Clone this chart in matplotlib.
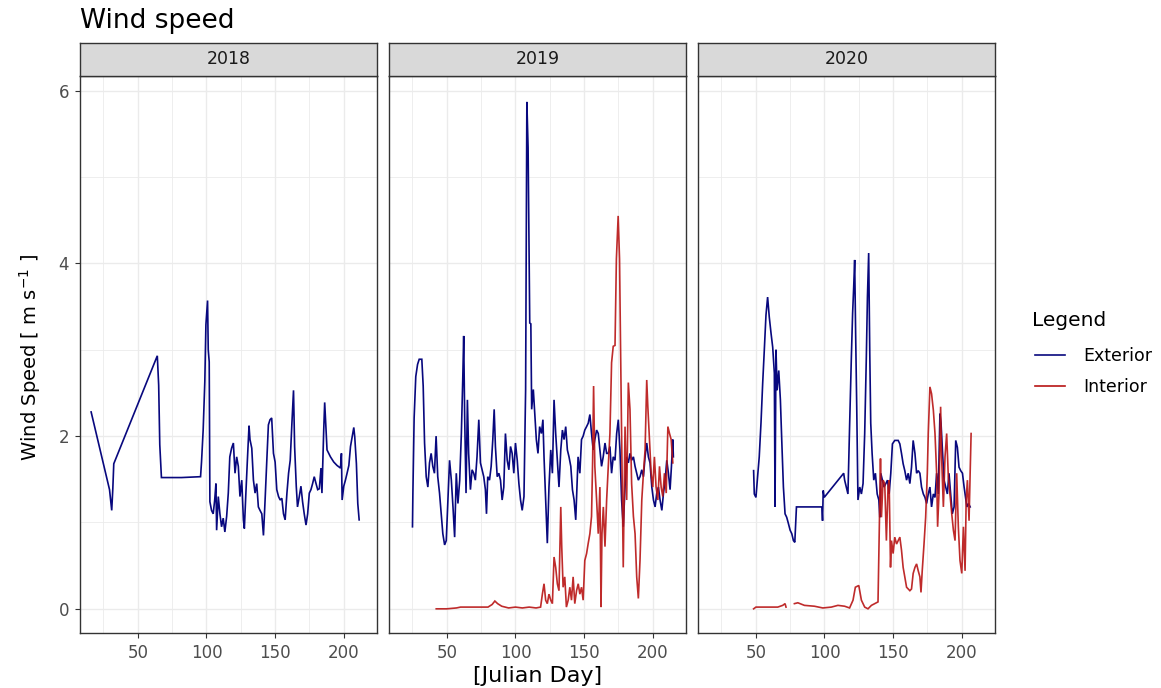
import numpy as np
import matplotlib
matplotlib.use("Agg")
import matplotlib.pyplot as plt
from matplotlib.lines import Line2D

plt.rcParams['font.family'] = ['DejaVu Sans']

# ---------------- data ----------------
years = ["2018", "2019", "2020"]

ext18_x = [16, 29.4, 31, 31.8, 32.5, 64.2, 65.2, 66, 67.2, 81.8, 95.7, 96.4, 97.6, 98.8, 99.6, 100.8, 101.3, 102,
           102.5, 103.7, 104.9, 106, 106.9, 107.4, 108.6, 109.8, 111, 112.2, 113.4, 114.7, 115.9, 117, 118.3, 119.6,
           120.8, 122, 123.2, 124.4, 125.7, 126.9, 127.6, 128.6, 129.8, 131, 131.7, 133, 134.2, 135.4, 136.6, 137.8,
           139, 140.3, 141.5, 142.7, 143.9, 145.1, 146.3, 147.5, 148.8, 150, 151.2, 152.5, 153.7, 154.9, 156.1,
           157.3, 158.6, 159.8, 161, 162.2, 163.4, 164.2, 165.4, 166.3, 167.6, 168.8, 170, 171.2, 172.5, 173.7,
           174.9, 176.1, 177.3, 178.5, 179.8, 181, 182.2, 183.4, 184.1, 185.4, 186.1, 187.1, 187.8, 190.3, 192.7,
           195.1, 197.6, 198.3, 198.8, 200, 201.2, 202.4, 203.7, 204.9, 206.1, 207.3, 208, 209.2, 210.2, 211.2]
ext18_y = [2.28, 1.38, 1.14, 1.39, 1.68, 2.93, 2.59, 1.90, 1.52, 1.52, 1.53, 1.70, 2.07, 2.63, 3.29, 3.57, 3.0, 2.86,
           1.24, 1.14, 1.1, 1.26, 1.45, 0.91, 1.3, 1.1, 0.95, 1.05, 0.89, 1.07, 1.34, 1.76, 1.86, 1.92,
           1.57, 1.76, 1.65, 1.3, 1.49, 1.03, 0.93, 1.30, 1.72, 2.12, 1.96, 1.86, 1.49, 1.34, 1.45, 1.18,
           1.14, 1.1, 0.85, 1.26, 1.70, 2.13, 2.19, 2.21, 1.8, 1.70, 1.38, 1.3, 1.26, 1.28, 1.1,
           1.03, 1.34, 1.57, 1.72, 2.14, 2.53, 1.88, 1.42, 1.18, 1.3, 1.42, 1.24, 1.1, 0.97, 1.1,
           1.34, 1.38, 1.45, 1.53, 1.45, 1.38, 1.39, 1.63, 1.34, 2.07, 2.39, 2.07, 1.84, 1.76, 1.70,
           1.66, 1.63, 1.80, 1.26, 1.42, 1.49, 1.57, 1.66, 1.88, 1.99, 2.10, 1.99, 1.68, 1.22, 1.03]

ext19_x = [25, 25.3, 26.2, 27.4, 28.7, 29.9, 31.8, 32.8, 33.8, 35, 36.2, 37.4, 38.6, 39.8, 41, 42.2, 43.4, 44.7,
           45.9, 47.1, 48.4, 49.6, 50.8, 52, 53.3, 54.5, 55.7, 56.9, 58.1, 59.4, 60.6, 61.6, 62.3, 63, 64, 65,
           65.9, 67.2, 68.4, 69.6, 70.8, 72, 73.3, 74.5, 75.7, 76.9, 78.1, 78.9, 79.8, 81.1, 82.3, 83.5, 84.5,
           85.4, 86.7, 87.9, 89.1, 90.3, 91.5, 92.7, 94, 95.2, 96.4, 97.6, 98.8, 100, 101.3, 102.5, 103.7, 104.9,
           106.2, 107.4, 108.3, 109.2, 109.8, 110.4, 111.2, 111.8, 113, 114, 115.2, 116.4, 117.6, 118.9, 120,
           120.8, 122, 123.2, 124.4, 125.7, 126.9, 128.1, 129.3, 130.5, 131.7, 133, 134.2, 135.4, 136.6, 137.8,
           139, 140.3, 141.5, 142.7, 143.9, 144.7, 145.6, 146.9, 148.1, 149.3, 150.5, 151.8, 153, 154.2, 155.4,
           156.6, 157.8, 159.1, 160.3, 161.5, 162.7, 163.9, 165.2, 166.4, 167.6, 168.8, 170, 171.2, 172.5, 173.7,
           174.9, 176.1, 177.3, 178.5, 179.8, 181, 182.2, 183.4, 184.6, 185.9, 187.1, 188.3, 189.5, 190.7, 192,
           193.2, 194.4, 195.6, 196.8, 198, 199.3, 200.5, 201.7, 202.9, 204.1, 205.3, 206.6, 207.8, 209, 210.2,
           211.4, 212.6, 213.6, 214.6, 215]
ext19_y = [0.95, 1.34, 2.21, 2.69, 2.83, 2.89, 2.89, 2.58, 1.92, 1.53, 1.41, 1.69, 1.80, 1.65, 1.57, 2.0, 1.53, 1.34,
           1.10, 0.87, 0.74, 0.79, 1.26, 1.72, 1.49, 1.18, 0.83, 1.57, 1.22, 1.49, 2.03, 2.65, 3.16, 2.23, 1.34, 2.42,
           1.80, 1.38, 1.61, 1.57, 1.49, 1.76, 2.19, 1.69, 1.61, 1.53, 1.38, 1.10, 1.53, 1.49, 1.65, 1.96, 2.31,
           1.88, 1.53, 1.57, 1.49, 1.26, 1.41, 2.03, 1.72, 1.61, 1.88, 1.80, 1.57, 1.92, 1.72, 1.45, 1.26, 1.14,
           1.30, 2.54, 5.87, 5.34, 4.35, 3.31, 3.3, 2.31, 2.54, 2.27, 1.96, 1.80, 2.11, 2.03, 2.19,
           1.76, 1.26, 0.76, 1.41, 1.84, 1.57, 2.42, 2.03, 1.72, 1.41, 1.84, 2.07, 1.96, 2.11, 1.84,
           1.76, 1.65, 1.38, 1.26, 1.03, 1.38, 1.76, 1.57, 1.96, 2.0, 2.07, 2.11, 2.15, 2.25, 2.03,
           1.84, 1.96, 2.07, 2.03, 1.84, 1.65, 1.76, 1.92, 1.80, 1.80, 1.88, 1.57, 1.76, 1.72, 2.03,
           2.19, 1.84, 1.26, 0.95, 1.41, 1.76, 1.69, 1.80, 1.72, 1.76, 1.65, 1.57, 1.49, 1.53, 1.61,
           1.53, 1.76, 1.92, 1.76, 1.69, 1.41, 1.26, 1.18, 1.34, 1.41, 1.26, 1.14, 1.34, 1.49, 1.72,
           1.57, 1.38, 1.65, 1.96, 1.76]

int19_x = [42.3, 50, 57, 60, 65, 70, 75, 80, 83, 85, 87, 90, 95, 100, 105, 110, 115, 118.3, 119.6, 120.8, 122,
           123.2, 124.4, 125.7, 126.9, 128.1, 129.3, 130.5, 131.7, 133, 133.7, 134.7, 135.9, 137.1, 138.4, 139.6,
           140.8, 142, 143.2, 144.5, 145.7, 146.9, 148.1, 149.3, 150.5, 151.8, 153, 154.2, 155.4, 156.2, 156.9,
           157.8, 159.1, 160.3, 161.5, 162.3, 163, 164, 165.2, 166.4, 167.6, 168.8, 170, 171.2, 172.5, 173.5,
           174.8, 175.8, 176.5, 177.3, 178.5, 179.8, 181, 182.2, 183.4, 184.6, 185.9, 187.1, 188.3, 189.5, 190.7,
           192, 193.2, 194.4, 195.6, 196.4, 197.6, 198.8, 200, 201.2, 202.4, 203.7, 204.9, 206.1, 207.3, 208.5,
           209.8, 211, 212.2, 213.4, 214.6]
int19_y = [0.0, 0.0, 0.01, 0.02, 0.02, 0.02, 0.02, 0.02, 0.05, 0.09, 0.06, 0.03, 0.01, 0.02, 0.01, 0.02, 0.01, 0.02,
           0.17, 0.29, 0.1, 0.06, 0.17, 0.1, 0.06, 0.6, 0.48, 0.29, 0.21, 1.18, 0.72, 0.25, 0.37, 0.02, 0.1, 0.25,
           0.1, 0.37, 0.06, 0.21, 0.29, 0.17, 0.25, 0.1, 0.56, 0.64, 0.76, 0.87, 1.07, 1.72, 2.58,
           1.65, 1.26, 0.87, 1.41, 0.02, 0.87, 1.18, 0.72, 1.26, 1.65, 2.03, 2.85, 3.04, 3.05, 4.05,
           4.55, 4.05, 3.08, 2.03, 0.48, 2.11, 1.26, 2.62, 2.31, 1.45, 1.07, 0.87, 0.37, 0.12, 0.56,
           1.26, 1.57, 1.84, 2.65, 2.34, 1.96, 1.57, 1.41, 1.76, 1.41, 1.26, 1.65, 1.41, 1.30, 1.57,
           1.34, 2.11, 2.03, 1.96, 1.69]

ext20_x = [48.4, 48.9, 50.1, 51.3, 52.5, 53.8, 55, 56.2, 57.4, 58.6, 59.8, 61.1, 62.3, 63.5, 64, 64.7, 65.5, 66.7,
           67.9, 68.9, 70.1, 71.3, 72.5, 73.7, 75, 76.2, 77.4, 78.4, 79.6, 81, 87.9, 95.2, 98.1, 98.6, 99.1, 99.8,
           114, 114.7, 115.9, 117.1, 118.3, 119.6, 120.5, 121.3, 122, 122.7, 123.5, 124.4, 125.7, 126.9, 128.1,
           129.3, 130.5, 131.3, 132.2, 133, 133.7, 134.7, 135.9, 137.1, 138.4, 139.6, 140.3, 141, 142.2, 143.4,
           144.7, 145.9, 147.1, 148.3, 149.5, 151.2, 153.7, 154.9, 156.1, 157.3, 158.5, 159.8, 161, 162.2, 163.4,
           164.6, 165.9, 167.1, 168.3, 169.5, 170.7, 172, 173.2, 174.4, 175.6, 176.8, 178, 179.3, 180.5, 181.7,
           182.9, 184.1, 184.9, 185.8, 187.1, 188.3, 189.5, 190.7, 191.9, 193.1, 194.4, 195.6, 196.8, 198, 199.2,
           200.5, 201.7, 202.4, 203.7, 204.9, 206.1]
ext20_y = [1.60, 1.33, 1.29, 1.53, 1.76, 2.16, 2.61, 3.0, 3.40, 3.61, 3.38, 3.19, 3.03, 2.73, 1.18, 3.0, 2.53, 2.76,
           2.42, 1.95, 1.41, 1.10, 1.06, 0.99, 0.91, 0.87, 0.79, 0.77, 1.18, 1.18, 1.18, 1.18, 1.18, 1.02, 1.37, 1.29,
           1.57, 1.49, 1.41, 1.33, 2.11, 2.92, 3.42, 3.73, 4.04, 3.19, 2.34, 1.26, 1.41, 1.33, 1.45,
           2.03, 2.92, 3.61, 4.12, 2.96, 2.15, 1.80, 1.49, 1.57, 1.33, 1.26, 1.06, 1.57, 1.49, 1.41,
           1.45, 1.49, 1.33, 1.57, 1.91, 1.95, 1.95, 1.91, 1.80, 1.68, 1.60, 1.49, 1.57, 1.45, 1.64,
           1.95, 1.80, 1.57, 1.60, 1.57, 1.41, 1.33, 1.29, 1.22, 1.33, 1.41, 1.18, 1.33, 1.29, 1.57,
           1.33, 2.26, 2.15, 1.87, 1.49, 1.41, 1.33, 1.57, 1.33, 1.10, 1.18, 1.95, 1.87, 1.64, 1.60,
           1.57, 1.41, 1.33, 1.18, 1.22, 1.18]

int20_x = [48.4, 50.1, 53.8, 58.6, 66, 69.6, 71.3, 72, 75, 78.1, 80.6, 85.4, 92.7, 98.8, 105, 109.8, 114.7, 118.3,
           120.8, 122.5, 125, 126.9, 129.3, 131.7, 134.2, 136.6, 139, 140.3, 140.8, 141.5, 142.7, 143.9, 145.1,
           146.3, 147.1, 148.1, 148.8, 150, 151.2, 152.5, 153.7, 154.9, 156.1, 157.3, 158.5, 159.8, 161, 162.2,
           163.4, 164.6, 165.9, 167.1, 168.3, 169.5, 170.3, 171.2, 172.5, 173.7, 174.9, 175.6, 176.8, 178, 179.3,
           180.5, 181.7, 182.4, 183.4, 184.6, 185.3, 186.6, 187.8, 189, 190.2, 191.4, 192.7, 193.9, 195.1, 196.3,
           197.5, 198.7, 200, 201.2, 202.4, 203.2, 204.1, 205.3, 206.1, 206.8]
int20_y = [0.0, 0.02, 0.02, 0.02, 0.02, 0.04, 0.06, 0.02, np.nan, 0.06, 0.07, 0.04, 0.03, 0.01, 0.02, 0.04, 0.03, 0.01,
           0.1, 0.25, 0.27, 0.1, 0.02, 0.0, 0.04, 0.06, 0.08, 1.26, 1.74, 1.06, 1.49, 1.45, 0.79,
           1.41, 1.49, 0.48, 0.79, 0.64, 0.83, 0.75, 0.79, 0.83, 0.68, 0.48, 0.37, 0.25, 0.23, 0.21,
           0.23, 0.41, 0.48, 0.52, 0.44, 0.37, 0.19, 0.44, 0.75, 1.06, 1.57, 2.03, 2.57, 2.49, 2.30,
           2.03, 1.57, 0.95, 1.33, 2.34, 1.76, 1.18, 1.76, 2.03, 1.53, 1.33, 1.10, 0.91, 0.79, 1.57,
           0.95, 0.56, 0.41, 0.95, 0.44, 1.26, 1.49, 1.02, 1.57, 2.03]

series = {
    "2018": [(ext18_x, ext18_y, "Exterior")],
    "2019": [(ext19_x, ext19_y, "Exterior"), (int19_x, int19_y, "Interior")],
    "2020": [(ext20_x, ext20_y, "Exterior"), (int20_x, int20_y, "Interior")],
}
legend_labels = ["Exterior", "Interior"]

x_major = [50, 100, 150, 200]
x_minor = [25, 75, 125, 175]
y_major = [0, 2, 4, 6]
y_minor = [1, 3, 5]

# ---------------- style ----------------
colors = {"Exterior": "#08087E", "Interior": "#B81414"}
alphas = {"Exterior": 1.0, "Interior": 0.9}
W, H = 1161, 688
fig = plt.figure(figsize=(W / 100, H / 100), dpi=100)

def px_axes(l, t, r, b):
    return fig.add_axes([l / W, 1 - b / H, (r - l) / W, (b - t) / H])

lefts = [80, 389, 698]
pw = 297
plot_top, plot_bot = 76, 633
strip_top = 43

for i, yr in enumerate(years):
    l = lefts[i]
    ax = px_axes(l, plot_top, l + pw, plot_bot)
    for xs, ys, name in series[yr]:
        ax.plot(xs, ys, color=colors[name], lw=1.2, alpha=alphas[name], solid_joinstyle="miter")
    ax.set_xlim(7.9, 224.2)
    ax.set_ylim(-0.28, 6.17)
    ax.set_xticks(x_major)
    ax.set_xticks(x_minor, minor=True)
    ax.set_yticks(y_major)
    ax.set_yticks(y_minor, minor=True)
    ax.grid(which="major", color="#EBEBEB", lw=1.0)
    ax.grid(which="minor", color="#EBEBEB", lw=0.6)
    ax.set_axisbelow(True)
    ax.tick_params(which="major", length=3.8, width=0.8, color="#333333",
                   labelcolor="#4D4D4D", labelsize=12, pad=4)
    ax.tick_params(which="minor", length=0)
    if i > 0:
        ax.tick_params(axis="y", which="major", labelleft=False, length=0)
    for sp in ax.spines.values():
        sp.set_color("#333333")
        sp.set_linewidth(1.0)

    sax = px_axes(l, strip_top, l + pw, plot_top)
    sax.set_facecolor("#D9D9D9")
    sax.set_xticks([])
    sax.set_yticks([])
    for sp in sax.spines.values():
        sp.set_color("#333333")
        sp.set_linewidth(1.0)
    sax.text(0.5, 0.5, yr, ha="center", va="center", fontsize=12.5, color="#1A1A1A",
             transform=sax.transAxes)

fig.text(80 / W, 1 - 28 / H, "Wind speed", fontsize=19, ha="left", va="baseline", color="black")
fig.text(30 / W, 1 - 357 / H, "Wind Speed [ m s$^{-1}$ ]", rotation=90, fontsize=14,
         ha="center", va="center", color="black")
fig.text(537.5 / W, 1 - 676 / H, "[Julian Day]", fontsize=16, ha="center", va="center", color="black")

fig.text(1032 / W, 1 - 320.5 / H, "Legend", fontsize=14.5, ha="left", va="center", color="black")
handles = [Line2D([], [], color=colors[n], lw=1.2) for n in legend_labels]
leg = fig.legend(handles=handles, labels=legend_labels,
                 loc="center left", bbox_to_anchor=(1035 / W, 1 - 371.5 / H), frameon=False,
                 fontsize=12.5, handlelength=1.75, handletextpad=1.05,
                 labelspacing=0.75, borderpad=0, borderaxespad=0)

fig.savefig("out.png", dpi=100)
